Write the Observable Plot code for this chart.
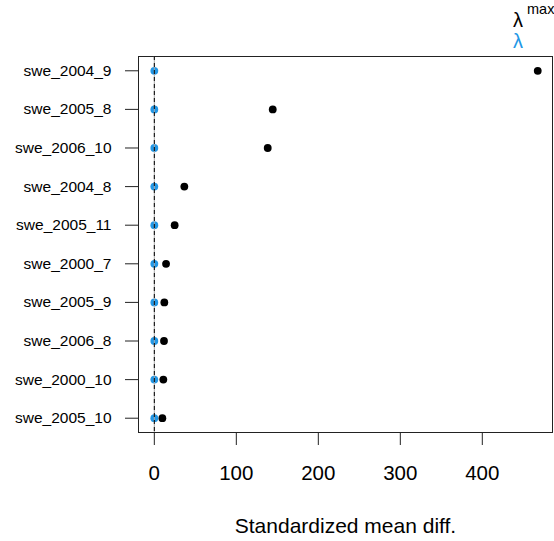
<!DOCTYPE html>
<html>
<head>
<meta charset="utf-8">
<script src="https://cdn.jsdelivr.net/npm/d3@7"></script>
<script src="https://cdn.jsdelivr.net/npm/@observablehq/plot@0.6"></script>
<style>
  html, body { margin: 0; padding: 0; background: #fff; }
  #chart svg { display: block; font-family: "Liberation Sans", Arial, Helvetica, sans-serif; }
</style>
</head>
<body>
<div id="chart"></div>
<script>
// Data
const variables = ["swe_2004_9", "swe_2005_8", "swe_2006_10", "swe_2004_8", "swe_2005_11",
                   "swe_2000_7", "swe_2005_9", "swe_2006_8", "swe_2000_10", "swe_2005_10"];
const lambdaMax = [467.6, 144.4, 138.3, 36.6, 24.8, 14.3, 12.2, 11.8, 11.0, 9.8];
const lambdaVal = [0, 0, 0, 0, 0, 0, 0, 0, 0, 0];
const xTicks = [0, 100, 200, 300, 400];
const xTitle = "Standardized mean diff.";

const blue = "#2297E6";
const rows = variables.map((v, i) => ({variable: v, lmax: lambdaMax[i], lam: lambdaVal[i]}));

const font = "'Liberation Sans', Arial, Helvetica, sans-serif";

const chart = Plot.plot({
  width: 554,
  height: 541,
  marginLeft: 138,
  marginRight: 2,
  marginTop: 56,
  marginBottom: 109,
  style: {fontFamily: font, background: "#fff", overflow: "visible"},
  x: {domain: [-19.3, 485.6], ticks: xTicks},
  y: {type: "point", domain: variables, padding: 0.37, round: false},
  marks: [
    Plot.frame({stroke: "#222", strokeWidth: 1}),
    Plot.axisX({ticks: xTicks, tickSize: 13, tickPadding: 20, fontSize: 20.5, label: null, stroke: "#222", color: "#000"}),
    Plot.axisY({tickSize: 13, tickPadding: 14, fontSize: 15.5, label: null, stroke: "#222", color: "#000"}),
    Plot.dot(rows, {x: "lmax", y: "variable", r: 3.9, fill: "#000", stroke: "none"}),
    Plot.dot(rows, {x: "lam", y: "variable", r: 3.9, fill: blue, stroke: "none"}),
    Plot.ruleX([0], {stroke: "#aaa", strokeWidth: 1}),
    Plot.ruleX([0], {stroke: "#000", strokeWidth: 1, strokeDasharray: "4,3"}),
    Plot.text([xTitle], {frameAnchor: "bottom", dy: 100, lineAnchor: "bottom", fontSize: 21, fill: "#000"}),
    // legend
    Plot.text(["λ"], {frameAnchor: "top-right", dx: -34.5, dy: -30, lineAnchor: "bottom", textAnchor: "middle", fontSize: 20, fill: "#000"}),
    Plot.text(["max"], {frameAnchor: "top-right", dx: -25.5, dy: -43, lineAnchor: "bottom", textAnchor: "start", fontSize: 14.5, fill: "#000"}),
    Plot.text(["λ"], {frameAnchor: "top-right", dx: -34.5, dy: -8.5, lineAnchor: "bottom", textAnchor: "middle", fontSize: 20, fill: blue})
  ]
});
document.getElementById("chart").appendChild(chart);
</script>
</body>
</html>
